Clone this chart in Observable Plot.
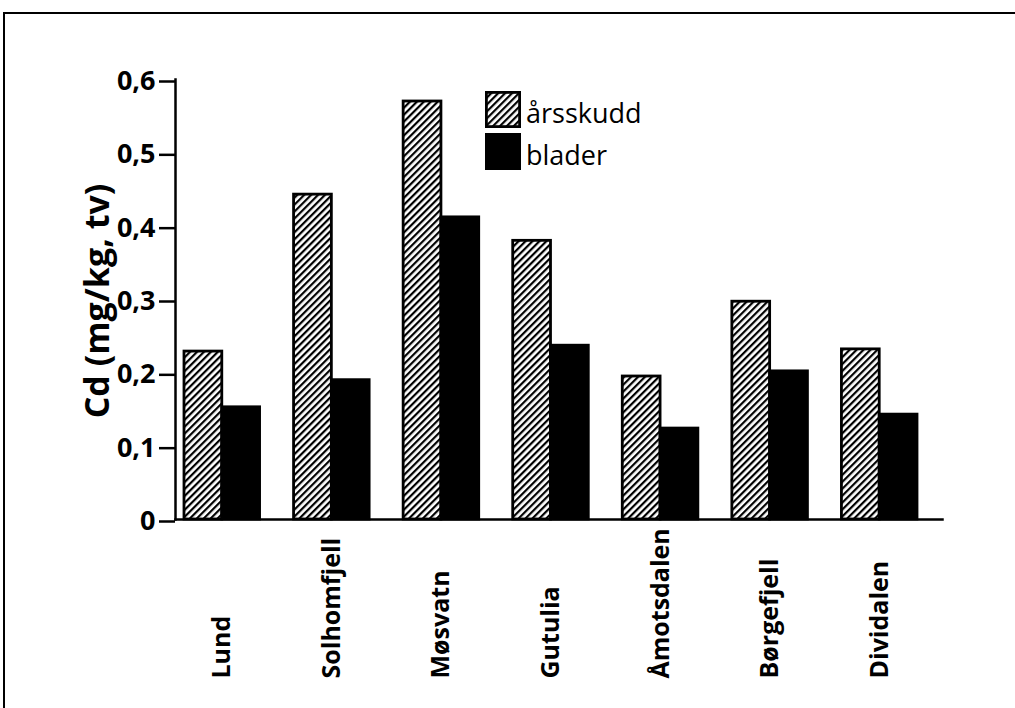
<!DOCTYPE html>
<html><head><meta charset="utf-8">
<script src="https://cdn.jsdelivr.net/npm/d3@7"></script>
<script src="https://cdn.jsdelivr.net/npm/@observablehq/plot@0.6"></script>
<style>
body{margin:0;background:#fff;width:1015px;height:708px;overflow:hidden;position:relative;font-family:"Open Sans",sans-serif;color:#000;}
#border{position:absolute;left:3px;top:12px;width:1100px;height:800px;border-top:2.5px solid #000;border-left:2.5px solid #000;}
#chart{position:absolute;left:0;top:0;}
#ytitle{position:absolute;left:96px;top:301px;transform:translate(-50%,-50%) rotate(-90deg);font-weight:700;font-size:34px;white-space:nowrap;line-height:1;}
#legend{position:absolute;left:485px;top:91px;}
.item{display:flex;align-items:center;height:37px;margin-bottom:5px;}
.item svg{display:block;}
.item span{font-size:27px;margin-left:5px;line-height:1;position:relative;top:3px;}
</style></head><body>
<div id="border"></div>
<div id="chart"></div>
<div id="ytitle">Cd (mg/kg, tv)</div>
<div id="legend"></div>
<script>
const sites = ["Lund", "Solhomfjell", "Møsvatn", "Gutulia", "Åmotsdalen", "Børgefjell", "Dividalen"];
const series = ["årsskudd", "blader"];
const arsskudd = [0.229, 0.443, 0.570, 0.380, 0.195, 0.297, 0.232];
const blader = [0.153, 0.190, 0.412, 0.237, 0.124, 0.202, 0.143];
const yTicks = [0, 0.1, 0.2, 0.3, 0.4, 0.5, 0.6];
const fills = ["url(#hatch)", "#000"];

const data = sites.flatMap((s, i) => [
  {site: s, series: series[0], value: arsskudd[i]},
  {site: s, series: series[1], value: blader[i]}
]);
const fmt = d => d === 0 ? "0" : d.toFixed(1).replace(".", ",");

const plot = Plot.plot({
  width: 1015, height: 708,
  marginTop: 79, marginBottom: 189, marginLeft: 175, marginRight: 73,
  style: {fontFamily: "'Open Sans', sans-serif", background: "transparent", overflow: "visible", color: "#000"},
  fx: {domain: sites, padding: 0, round: false, axis: null, label: null},
  x: {domain: series, padding: 0, axis: null, round: false, insetLeft: 9, insetRight: 25},
  y: {domain: [0, 0.6], axis: null},
  color: {domain: series, range: fills},
  marks: [
    Plot.barY(data, {fx: "site", x: "series", y: "value", fill: "series", stroke: "#000", strokeWidth: 2.8}),
    Plot.frame({anchor: "bottom", facet: "super", stroke: "#000", strokeWidth: 2.5}),
    Plot.frame({anchor: "left", facet: "super", stroke: "#000", strokeWidth: 2.5}),
    Plot.axisY({ticks: yTicks, tickFormat: fmt, tickSize: 16, tickPadding: 4, dy: 2, fontSize: 27, fontWeight: 700, strokeWidth: 2.5, label: null}),
    Plot.axisFx({anchor: "bottom", tickSize: 0, tickPadding: 159, tickRotate: -90, textAnchor: "start", lineAnchor: "middle", dx: -8, fontSize: 25, fontWeight: 700, label: null})
  ]
});
d3.select(plot).insert("defs", ":first-child").html(
  `<pattern id="hatch" patternUnits="userSpaceOnUse" width="4.9" height="4.9" patternTransform="rotate(45)"><rect width="4.9" height="4.9" fill="#fff"/><rect x="0" y="0" width="2.2" height="4.9" fill="#000"/></pattern>`
);
document.getElementById("chart").appendChild(plot);

const legend = document.getElementById("legend");
series.forEach((s, i) => {
  const item = document.createElement("div");
  item.className = "item";
  const sw = i === 0
    ? `<svg width="36" height="37"><defs><pattern id="hatchL" patternUnits="userSpaceOnUse" width="4.9" height="4.9" patternTransform="rotate(45)"><rect width="4.9" height="4.9" fill="#fff"/><rect x="0" y="0" width="2.2" height="4.9" fill="#000"/></pattern></defs><rect x="1.4" y="1.4" width="33.2" height="34.2" fill="url(#hatchL)" stroke="#000" stroke-width="2.8"/></svg>`
    : `<svg width="36" height="37"><rect width="36" height="37" fill="#000"/></svg>`;
  item.innerHTML = sw + `<span>${s}</span>`;
  legend.appendChild(item);
});
</script>
</body></html>
